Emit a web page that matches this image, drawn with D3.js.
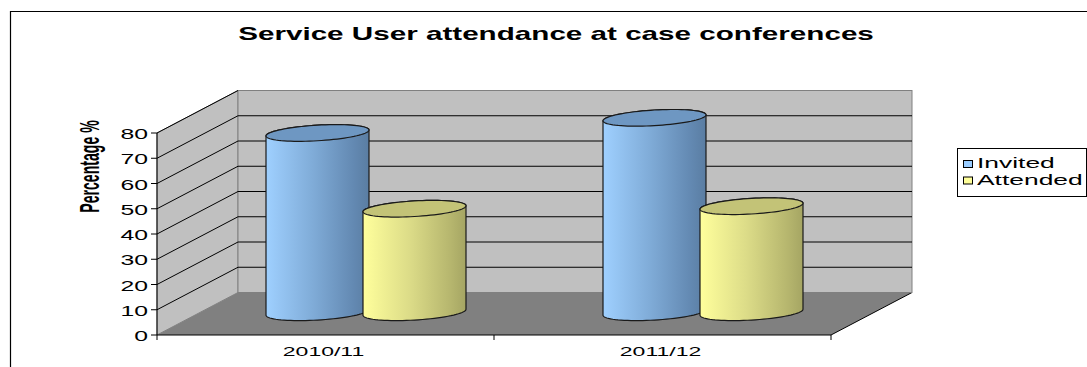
<!DOCTYPE html>
<html><head><meta charset="utf-8">
<script src="https://cdn.jsdelivr.net/npm/d3@7"></script>
<style>body{margin:0;background:#fff}svg{display:block}text{font-family:"Liberation Sans",Arial,sans-serif}</style>
</head><body><svg id="c" width="1087" height="367"></svg>
<script>
const chartTitle = "Service User attendance at case conferences";
const yAxisTitle = "Percentage %";
const categories = ["2010/11", "2011/12"];
const seriesNames = ["Invited", "Attended"];
const invited = [71, 77];
const attended = [41, 42];
const yTicks = [0, 10, 20, 30, 40, 50, 60, 70, 80];

const seriesValues = [invited, attended];
const sideColors = [
  [["0", "#9fd0ff"], ["0.45", "#80acd8"], ["0.85", "#6389b2"], ["1", "#5a7da2"]],
  [["0", "#ffff9c"], ["0.45", "#dcdc88"], ["0.85", "#b6b66e"], ["1", "#a5a563"]]
];
const topColors = ["#6e97c2", "#c3c377"];
const swatchColors = ["#99ccff", "#ffff99"];

const svg = d3.select("#c");
const x0 = 157, x1 = 831, yB = 335, yT = 133;
const dx = 81, dy = -42.5;
const y = d3.scaleLinear().domain([0, 80]).range([yB, yT]);
const x = d3.scaleBand().domain(categories).range([x0, x1]).padding(0);
const s = d3.scaleBand().domain(seriesNames).range([-97, 97]).padding(0);

// stretched text helper (reference text is horizontally stretched)
function stext(parent, px, py, str, size, sx, anchor, bold) {
  const g = parent.append("g").attr("transform", `translate(${px},${py}) scale(${sx},1)`);
  const t = g.append("text").attr("x", 0).attr("y", 0).attr("font-size", size)
    .attr("text-anchor", anchor || "start").attr("font-weight", bold ? "bold" : "normal").text(str);
  return t;
}

// outer frame
svg.append("path").attr("d", "M10.5,367 V11.5 H1087").attr("fill", "none").attr("stroke", "#000").attr("stroke-width", 1.2);

// gradients
const defs = svg.append("defs");
sideColors.forEach((stops, i) => {
  const g = defs.append("linearGradient").attr("id", "g" + i).attr("x1", 0).attr("x2", 1).attr("y1", 0).attr("y2", 0);
  stops.forEach(st => g.append("stop").attr("offset", st[0]).attr("stop-color", st[1]));
});

// walls
const wall = svg.append("g");
wall.append("path")
  .attr("d", `M${x0},${yB} L${x0+dx},${yB+dy} L${x0+dx},${yT+dy} L${x0},${yT} Z`)
  .attr("fill", "#c0c0c0").attr("stroke", "#808080").attr("stroke-width", 1);
wall.append("rect")
  .attr("x", x0 + dx).attr("y", yT + dy).attr("width", x1 - x0).attr("height", yB - yT)
  .attr("fill", "#c0c0c0").attr("stroke", "#808080").attr("stroke-width", 1);
yTicks.filter(t => t > 0).forEach(t => {
  wall.append("line").attr("x1", x0).attr("y1", y(t)).attr("x2", x0 + dx).attr("y2", y(t) + dy)
    .attr("stroke", "#000").attr("stroke-width", 1);
  if (t < 80) wall.append("line").attr("x1", x0 + dx).attr("y1", y(t) + dy).attr("x2", x1 + dx).attr("y2", y(t) + dy)
    .attr("stroke", "#000").attr("stroke-width", 1);
});
wall.append("path")
  .attr("d", `M${x0},${yB} L${x1},${yB} L${x1+dx},${yB+dy} L${x0+dx},${yB+dy} Z`)
  .attr("fill", "#808080").attr("stroke", "none");
wall.append("line").attr("x1", x1).attr("y1", yB).attr("x2", x1 + dx).attr("y2", yB + dy).attr("stroke", "#000");
wall.append("line").attr("x1", x0 + dx).attr("y1", yB + dy).attr("x2", x1 + dx).attr("y2", yB + dy).attr("stroke", "#808080");

// cylinders
const rx = 51.5, ry = 7.8, k = 0.058;
function pt(cx, cy, t) { return [cx + rx * Math.cos(t), cy + ry * Math.sin(t) - k * rx * Math.cos(t)]; }
function arc(cx, cy, a0, a1, n) {
  const out = [];
  for (let i = 0; i <= n; i++) out.push(pt(cx, cy, a0 + (a1 - a0) * i / n));
  return out;
}
const line = d3.line();
const cyl = svg.append("g");
categories.forEach((c, ci) => {
  seriesNames.forEach((sn, si) => {
    const v = seriesValues[si][ci];
    const cx = x(c) + x.bandwidth() / 2 + dx / 2 + s(sn) + s.bandwidth() / 2;
    const cb = y(0) + dy / 2 - 1.5, ct = y(v) + dy / 2 - 1.5;
    const body = [].concat(arc(cx, cb, Math.PI, 0, 40), arc(cx, ct, 0, -Math.PI, 40));
    cyl.append("path").attr("d", line(body) + "Z").attr("fill", `url(#g${si})`)
      .attr("stroke", "#1a1a1a").attr("stroke-width", 1.2);
    cyl.append("path").attr("d", line(arc(cx, ct, 0, 2 * Math.PI, 80)) + "Z").attr("fill", topColors[si])
      .attr("stroke", "#1a1a1a").attr("stroke-width", 1.2);
  });
});

// axes
const ax = svg.append("g");
ax.append("line").attr("x1", x0).attr("y1", y(80)).attr("x2", x0).attr("y2", yB).attr("stroke", "#000");
yTicks.forEach(t => {
  ax.append("line").attr("x1", x0 - 6).attr("x2", x0).attr("y1", y(t)).attr("y2", y(t)).attr("stroke", "#000");
  stext(ax, x0 - 9, y(t) + 6, t, 15, 1.65, "end");
});
ax.append("line").attr("x1", x0).attr("y1", yB).attr("x2", x1).attr("y2", yB).attr("stroke", "#000");
[x0, ...categories.map(c => x(c) + x.bandwidth())].forEach(px => {
  ax.append("line").attr("x1", px).attr("x2", px).attr("y1", yB).attr("y2", yB + 5).attr("stroke", "#000");
});
categories.forEach(c => {
  stext(ax, x(c) + x.bandwidth() / 2 - 2, 356, c, 13, 1.77, "middle");
});

// y title
svg.append("text").attr("transform", "translate(99,166.5) rotate(-90) scale(0.88,1.75)")
  .attr("text-anchor", "middle").attr("font-size", 16).attr("font-weight", "bold").text(yAxisTitle);

// title
const tt = stext(svg, 556, 40, chartTitle, 17.5, 1, "middle", true);
const tw = tt.node().getComputedTextLength();
tt.node().parentNode.setAttribute("transform", `translate(556,40) scale(${636 / tw},1)`);

// legend
const lg = svg.append("g");
lg.append("rect").attr("x", 957.5).attr("y", 148.5).attr("width", 129).attr("height", 48)
  .attr("fill", "#fff").attr("stroke", "#000");
seriesNames.forEach((n, i) => {
  lg.append("rect").attr("x", 963.5).attr("y", 160.5 + i * 16.5).attr("width", 9).attr("height", 7)
    .attr("fill", swatchColors[i]).attr("stroke", "#000");
  stext(lg, 977, 168 + i * 16.5, n, 15, 1.76, "start");
});
</script></body></html>
